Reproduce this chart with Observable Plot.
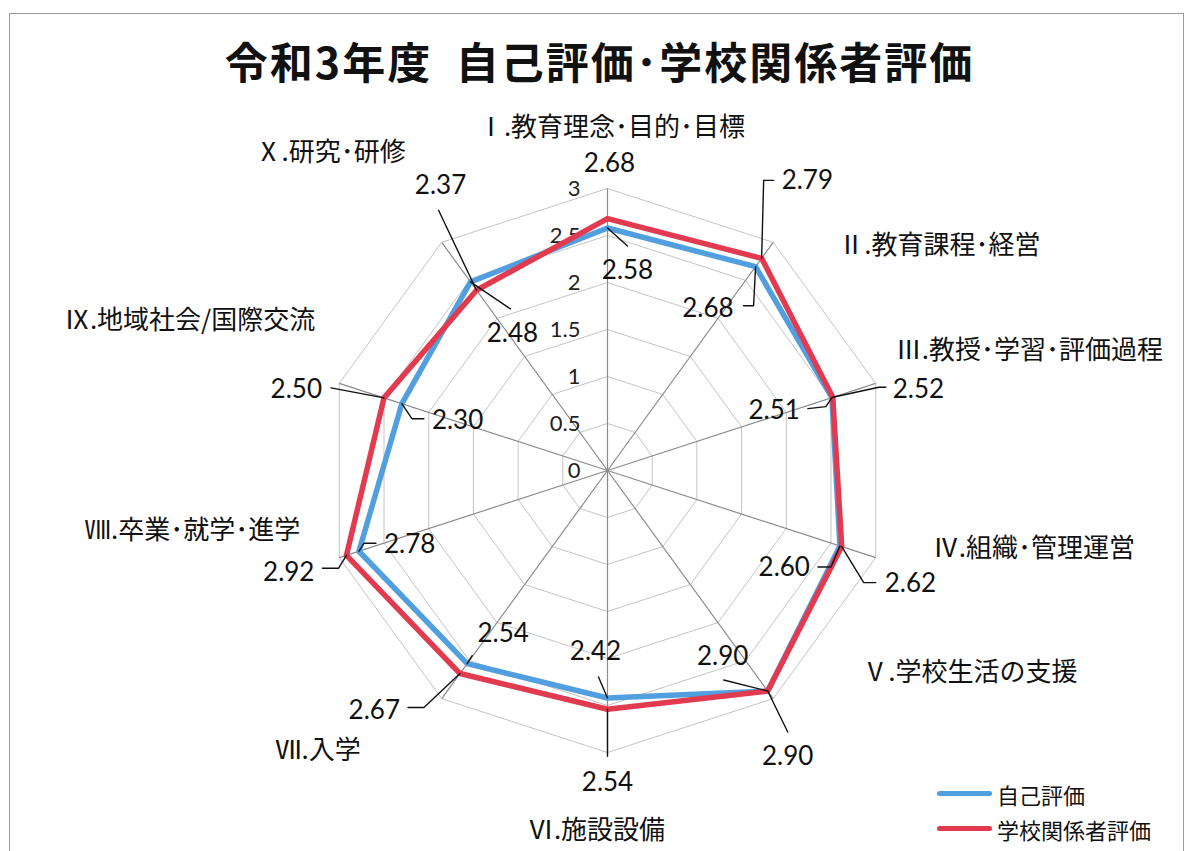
<!DOCTYPE html>
<html lang="ja">
<head>
<meta charset="utf-8">
<script src="https://cdn.jsdelivr.net/npm/d3@7"></script>
<script src="https://cdn.jsdelivr.net/npm/@observablehq/plot@0.6"></script>
<style>
  html, body { margin: 0; padding: 0; background: #fff; }
  body { width: 1199px; height: 851px; overflow: hidden; position: relative; font-family: "Noto Sans CJK JP", "Noto Sans", sans-serif; }
  #frame { position: absolute; left: 9px; top: 13px; width: 1175px; height: 900px; border: 1.5px solid #9a9a9a; box-sizing: border-box; }
  #title { position: relative; height: 100px; width: 1199px; text-align: center; font-size: 43px; font-weight: 700; line-height: 120px; color: #111; letter-spacing: 2px; }
  #chart { position: relative; }
  #chart svg text.cat { letter-spacing: 1px; }
  #legend { position: absolute; left: 937px; top: 776px; font-size: 22px; color: #111; }
  .lg { display: flex; align-items: center; height: 35px; }
  .sw { width: 55px; height: 5px; border-radius: 3px; margin-right: 5px; }
</style>
</head>
<body>
<div id="frame"></div>
<div id="title">令和3年度&nbsp;&nbsp;自己評価･学校関係者評価</div>
<div id="chart"></div>
<div id="legend"></div>
<script>
// ---- data ----
const categories = [
  "Ⅰ.教育理念･目的･目標",
  "Ⅱ.教育課程･経営",
  "Ⅲ.教授･学習･評価過程",
  "Ⅳ.組織･管理運営",
  "Ⅴ.学校生活の支援",
  "Ⅵ.施設設備",
  "Ⅶ.入学",
  "Ⅷ.卒業･就学･進学",
  "Ⅸ.地域社会/国際交流",
  "Ⅹ.研究･研修"
];
const seriesNames = ["自己評価", "学校関係者評価"];
const selfEval        = [2.58, 2.68, 2.51, 2.60, 2.90, 2.42, 2.54, 2.78, 2.30, 2.48];
const stakeholderEval = [2.68, 2.79, 2.52, 2.62, 2.90, 2.54, 2.67, 2.92, 2.50, 2.37];
const ticks = [0, 0.5, 1, 1.5, 2, 2.5, 3];
const rMax = 3;

// ---- layout (pixel offsets, separate from data) ----
const colors = ["#529fdf", "#e23b50"];
const catLayout = [
  [4, -61, "middle"], [65, 3, "start"], [20, -33, "start"], [57, -9, "start"], [89, -26, "start"],
  [-11, 78, "middle"], [-81, 52, "end"], [-39, -27, "end"], [-24, -63, "end"], [-36, -90, "end"]
];
// [label dx, label dy, anchor, leader offsets]
const selfLabelLayout = [
  [20, 43, "middle", [[20, 18]]],
  [-22, 42, "end", [[-2, 39], [-12, 39]]],
  [-32, 13, "end", [[-6, 9], [-24, 11]]],
  [-30, 22, "end", [[-9, 21], [-22, 21]]],
  [-45, -34, "middle", [[-44, -11]]],
  [-12, -46, "middle", [[-9, -21]]],
  [36, -30, "middle", [[5, -8]]],
  [25, -7, "start", [[5, -8], [17, -8]]],
  [30, 17, "start", [[10, 15], [22, 15]]],
  [42, 52, "middle", [[40, 27]]]
];
const stakeLabelLayout = [
  [2, -55, "middle", []],
  [20, -78, "start", [[2, -78], [12, -78]]],
  [60, -8, "start", [[46, -10], [53, -10]]],
  [43, 37, "start", [[22, 36], [34, 36]]],
  [20, 66, "middle", [[20, 41]]],
  [0, 73, "middle", [[0, 47]]],
  [-60, 37, "end", [[-36, 34], [-52, 34]]],
  [-32, 17, "end", [[-8, 13], [-24, 13]]],
  [-62, -8, "end", [[-53, -10]]],
  [-36, -105, "middle", [[-38, -80]]]
];

const W = 1199, H = 751, K = 94, CX = 607, CY = 370;
const n = categories.length;
const ang = i => i * 2 * Math.PI / n;
const px = (i, r) => r * Math.sin(ang(i));
const py = (i, r) => r * Math.cos(ang(i));

// rings and spokes
const rings = ticks.filter(t => t > 0).flatMap(t =>
  d3.range(n + 1).map(j => ({t, x: px(j % n, t), y: py(j % n, t)})));
const spokes = d3.range(n).map(i => ({x2: px(i, rMax), y2: py(i, rMax)}));

const seriesVals = [selfEval, stakeholderEval];
const seriesPts = seriesVals.flatMap((vals, s) =>
  d3.range(n + 1).map(j => ({series: seriesNames[s], x: px(j % n, vals[j % n]), y: py(j % n, vals[j % n])})));

const layouts = [selfLabelLayout, stakeLabelLayout];
const leaderPts = [], valueLabels = [];
seriesVals.forEach((vals, s) => {
  vals.forEach((v, i) => {
    const vx = px(i, v), vy = py(i, v);
    const [ldx, ldy, anchor, leader] = layouts[s][i];
    if (leader.length) {
      leaderPts.push({id: s + "-" + i, x: vx, y: vy});
      leader.forEach(o => leaderPts.push({id: s + "-" + i, x: vx + o[0] / K, y: vy - o[1] / K}));
    }
    valueLabels.push({x: vx, y: vy, text: d3.format(".2f")(v), dx: ldx, dy: ldy, anchor});
  });
});

const catLabels = categories.map((c, i) => ({
  text: c, x: px(i, rMax), y: py(i, rMax), dx: catLayout[i][0], dy: catLayout[i][1], anchor: catLayout[i][2]
}));

// per-datum pixel offsets converted to data units
const offsetData = data => data.map(d => ({...d, x: d.x + d.dx / K, y: d.y - d.dy / K}));
const vl = offsetData(valueLabels);
const cl = offsetData(catLabels);

const chart = Plot.plot({
  width: W, height: H,
  margin: 0,
  x: {domain: [-CX / K, (W - CX) / K], axis: null},
  y: {domain: [-(H - CY) / K, CY / K], axis: null},
  color: {domain: seriesNames, range: colors},
  style: {background: "transparent", fontFamily: "'Noto Sans CJK JP', 'Noto Sans', sans-serif", color: "#111"},
  marks: [
    Plot.line(rings, {x: "x", y: "y", z: "t", stroke: "#c4c4c4", strokeWidth: 1}),
    Plot.link(spokes, {x1: 0, y1: 0, x2: "x2", y2: "y2", stroke: "#8c8c8c", strokeWidth: 1.2}),
    Plot.text(ticks, {x: 0, y: d => d, text: d => String(d), textAnchor: "end", dx: -27, fontSize: 22, fontFamily: "Lato, 'Noto Sans', sans-serif", fill: "#222"}),
    Plot.line(seriesPts, {x: "x", y: "y", z: "series", stroke: "series", strokeWidth: 5.5, strokeLinejoin: "round"}),
    Plot.line(leaderPts, {x: "x", y: "y", z: "id", stroke: "#111", strokeWidth: 1.4}),
    ...["start", "middle", "end"].map(a => Plot.text(vl.filter(d => d.anchor === a), {
      x: "x", y: "y", text: "text", textAnchor: a, fontSize: 26, fontFamily: "Lato, 'Noto Sans', sans-serif", fill: "#111"
    })),
    ...["start", "middle", "end"].map(a => Plot.text(cl.filter(d => d.anchor === a), {
      x: "x", y: "y", text: "text", textAnchor: a, fontSize: 26, fontFamily: "'Noto Sans CJK JP', sans-serif", fill: "#111"
    }))
  ]
});
document.getElementById("chart").appendChild(chart);

// legend
const lg = document.getElementById("legend");
seriesNames.forEach((s, i) => {
  const row = document.createElement("div");
  row.className = "lg";
  const sw = document.createElement("div");
  sw.className = "sw";
  sw.style.background = colors[i];
  const tx = document.createElement("span");
  tx.textContent = s;
  row.appendChild(sw); row.appendChild(tx);
  lg.appendChild(row);
});
</script>
</body>
</html>
